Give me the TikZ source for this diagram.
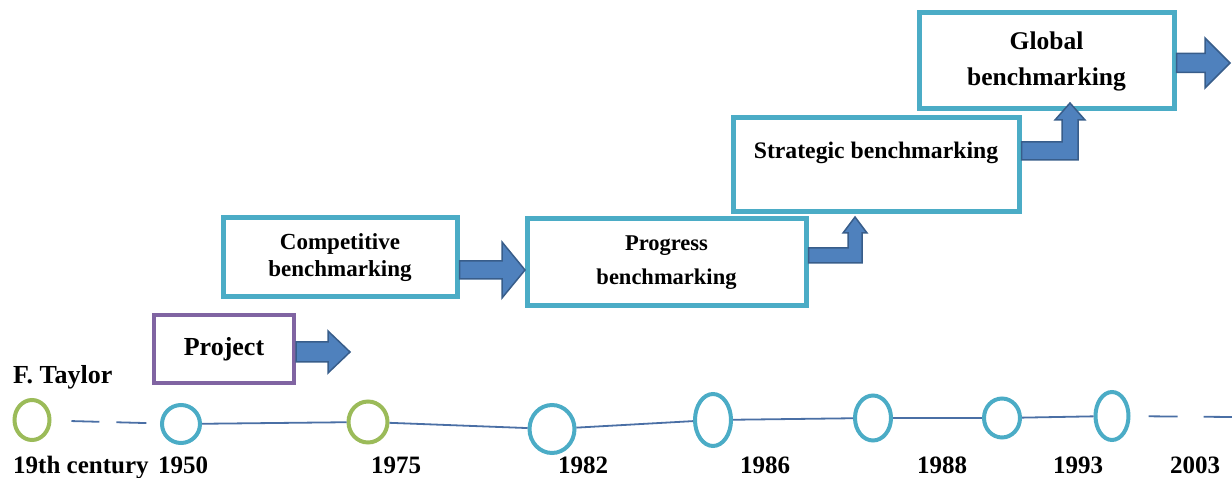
\documentclass[tikz,border=0pt]{standalone}
\usepackage{fontspec}
\setmainfont{Liberation Serif}
\usetikzlibrary{shapes.geometric,calc}
\definecolor{boxteal}{HTML}{4BACC6}
\definecolor{boxpurple}{HTML}{8064A2}
\definecolor{ringgreen}{HTML}{9BBB59}
\definecolor{arrowfill}{HTML}{4F81BD}
\definecolor{arrowedge}{HTML}{385D8A}
\definecolor{tline}{HTML}{4A6FA5}
\newcommand\fsz[2]{\fontsize{#1pt}{#2pt}\selectfont\bfseries}
\begin{document}
\begin{tikzpicture}[x=1pt,y=-1pt,
  stagebox/.style={draw=boxteal,line width=5pt,fill=white,align=center,inner sep=0pt,text=black},
  blockarrow/.style={fill=arrowfill,draw=arrowedge,line width=1.5pt,line join=miter},
  ring/.style={ellipse,draw=#1,line width=4pt,inner sep=0pt},
  tl/.style={draw=tline,line width=1.8pt},
  tlabel/.style={inner sep=0pt,text=black}]
\useasboundingbox (0,0) rectangle (1232,478);

% stage boxes
\node[stagebox,draw=boxpurple,line width=4pt,minimum width=140pt,minimum height=68pt,font=\fsz{26}{30}] (proj) at (224,349) {Project};
\node[stagebox,minimum width=234pt,minimum height=79pt,font=\fsz{23}{27}] (comp) at (340,257.5) {Competitive\\benchmarking};
\node[stagebox,minimum width=279pt,minimum height=87pt,font=\fsz{22.5}{34}] (prog) at (666.5,262.5) {Progress\\benchmarking};
\node[stagebox,minimum width=286pt,minimum height=94pt,font=\fsz{23.7}{30}] (strat) at (876,165) {Strategic benchmarking\\\mbox{}};
\node[stagebox,minimum width=255pt,minimum height=96pt,font=\fsz{25.5}{36}] (glob) at (1046.5,61) {Global\\benchmarking};

% block arrows
\draw[blockarrow] ($(proj.east)+(0,3)$) ++(0,-10) -- ++(32,0) -- ++(0,-11) -- ++(22,21) -- ++(-22,21) -- ++(0,-11) -- ++(-32,0) -- cycle;
\draw[blockarrow] ($(comp.east)+(0,12.5)$) ++(0,-9) -- ++(42.5,0) -- ++(0,-19) -- ++(23,28) -- ++(-23,28) -- ++(0,-19) -- ++(-42.5,0) -- cycle;
\draw[blockarrow] ($(prog.east)+(0,-14.5)$) -- ++(39.5,0) -- ++(0,-15) -- ++(-5,0) -- ++(12,-16) -- ++(12,16) -- ++(-5,0) -- ++(0,30) -- ++(-53.5,0) -- cycle;
\draw[blockarrow] ($(strat.east)+(0,-23)$) -- ++(40.5,0) -- ++(0,-22) -- ++(-7,0) -- ++(15,-17) -- ++(15,17) -- ++(-7,0) -- ++(0,40) -- ++(-56.5,0) -- cycle;
\draw[blockarrow] ($(glob.east)+(0,2)$) ++(0,-9.5) -- ++(28.5,0) -- ++(0,-15.5) -- ++(25,25) -- ++(-25,25) -- ++(0,-15.5) -- ++(-28.5,0) -- cycle;

% timeline rings
\node[ring=ringgreen,minimum width=35pt,minimum height=40pt] (c1) at (32,420) {};
\node[ring=boxteal,minimum width=38pt,minimum height=38pt] (c2) at (181,424) {};
\node[ring=ringgreen,minimum width=39pt,minimum height=41pt] (c3) at (368,422) {};
\node[ring=boxteal,minimum width=45pt,minimum height=48pt] (c4) at (552,429) {};
\node[ring=boxteal,minimum width=36pt,minimum height=52pt] (c5) at (713,420) {};
\node[ring=boxteal,minimum width=36pt,minimum height=45pt] (c6) at (873,418) {};
\node[ring=boxteal,minimum width=36pt,minimum height=39pt] (c7) at (1002,418) {};
\node[ring=boxteal,minimum width=33pt,minimum height=48pt] (c8) at (1112,416) {};
\coordinate (tend) at (1232,417);

% timeline connectors
\draw[tl,dash pattern=on 0pt off 20pt on 28pt off 17pt on 30pt off 40pt] (c1) -- (c2);
\draw[tl] (c2) -- (c3);
\draw[tl] (c3) -- (c4);
\draw[tl] (c4) -- (c5);
\draw[tl] (c5) -- (c6);
\draw[tl] (c6) -- (c7);
\draw[tl] (c7) -- (c8);
\draw[tl,dash pattern=on 0pt off 18pt on 29pt off 26pt on 40pt off 10pt] (c8) -- (tend);

% timeline labels
\node[tlabel,anchor=base west,font=\fsz{26}{30}] (ftaylor) at (13,383) {F. Taylor};
\node[tlabel,anchor=base west,font=\fsz{25}{30}] (l19) at (13,473) {19th century};
\node[tlabel,anchor=base west,font=\fsz{25}{30}] (l1950) at (158,473) {1950};
\node[tlabel,anchor=base,font=\fsz{25}{30}] (l1975) at (396,473) {1975};
\node[tlabel,anchor=base,font=\fsz{25}{30}] (l1982) at (583,473) {1982};
\node[tlabel,anchor=base,font=\fsz{25}{30}] (l1986) at (765,473) {1986};
\node[tlabel,anchor=base,font=\fsz{25}{30}] (l1988) at (942,473) {1988};
\node[tlabel,anchor=base,font=\fsz{25}{30}] (l1993) at (1078,473) {1993};
\node[tlabel,anchor=base,font=\fsz{25}{30}] (l2003) at (1195,473) {2003};
\end{tikzpicture}
\end{document}
